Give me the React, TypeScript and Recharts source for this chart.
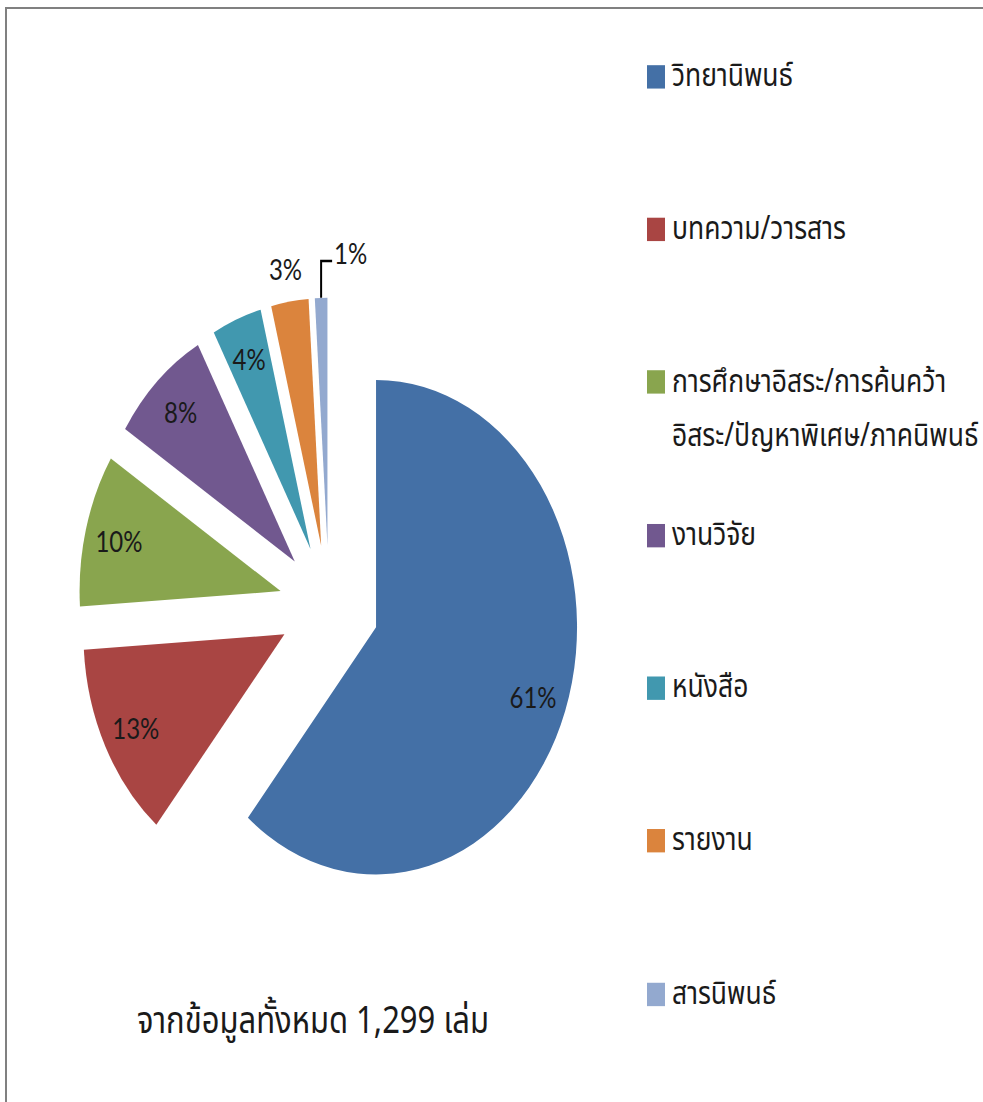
import { Legend, Pie, PieChart, Sector } from "recharts";

const categories = [
  "วิทยานิพนธ์",
  "บทความ/วารสาร",
  "การศึกษาอิสระ/การค้นคว้า\nอิสระ/ปัญหาพิเศษ/ภาคนิพนธ์",
  "งานวิจัย",
  "หนังสือ",
  "รายงาน",
  "สารนิพนธ์",
];
const shares = [61, 13, 10, 8, 4, 3, 1];
const colors = ["#4470A6", "#A94543", "#89A54E", "#71588F", "#4198AF", "#DB843D", "#93A9CF"];
const footnote = "จากข้อมูลทั้งหมด 1,299 เล่ม";

const data = categories.map((name, i) => ({ name, value: shares[i], fill: colors[i] }));

const STRETCH = 1.23; // the source picture is stretched vertically
const EXPLODE = 50;
const RAD = Math.PI / 180;
const THAI_FONT = "'Noto Sans Thai', 'Noto Sans', 'DejaVu Sans', sans-serif";
const LABEL_FONT = "Lato, 'Liberation Sans', sans-serif";

const offsetOf = (cx: number, cy: number, midAngle: number) => ({
  x: cx + EXPLODE * Math.cos(-midAngle * RAD),
  y: cy + EXPLODE * Math.sin(-midAngle * RAD),
});

const ExplodedSlice = (props: any) => {
  const { cx, cy, midAngle, innerRadius, outerRadius, startAngle, endAngle, fill } = props;
  const c = offsetOf(cx, cy, midAngle);
  return (
    <Sector
      cx={c.x}
      cy={c.y}
      innerRadius={innerRadius}
      outerRadius={outerRadius}
      startAngle={startAngle}
      endAngle={endAngle}
      fill={fill}
      stroke="none"
    />
  );
};

const renderLabel = (props: any) => {
  const { cx, cy, midAngle, outerRadius, percent } = props;
  const c = offsetOf(cx, cy, midAngle);
  const cos = Math.cos(-midAngle * RAD);
  const sin = Math.sin(-midAngle * RAD);
  const text = `${Math.round(percent * 100)}%`;
  const style = { fontFamily: LABEL_FONT, fontSize: 24, fill: "#1a1a1a" };

  if (percent >= 0.04) {
    const r = outerRadius * 0.83;
    return (
      <text x={c.x + r * cos} y={c.y + r * sin} textAnchor="middle" dominantBaseline="central" style={style}>
        {text}
      </text>
    );
  }
  if (percent >= 0.02) {
    const r = outerRadius + 27;
    return (
      <text x={c.x + r * cos} y={c.y + r * sin} textAnchor="middle" dominantBaseline="central" style={style}>
        {text}
      </text>
    );
  }
  // tiny slice: leader line going up then right
  const ex = c.x + outerRadius * cos;
  const ey = c.y + outerRadius * sin;
  const ty = ey - 30;
  return (
    <g>
      <polyline points={`${ex},${ey} ${ex},${ty} ${ex + 11},${ty}`} stroke="#000" strokeWidth={2} fill="none" />
      <text x={ex + 13} y={ty - 7} textAnchor="start" dominantBaseline="central" style={style}>
        {text}
      </text>
    </g>
  );
};

const renderLegend = (props: any) => {
  const { payload = [] } = props;
  return (
    <div style={{ fontFamily: THAI_FONT, fontSize: 26.5, color: "#1a1a1a" }}>
      {payload.map((entry: any, i: number) => (
        <div key={i} style={{ display: "flex", alignItems: "flex-start", height: 124.3 }}>
          <div style={{ width: 18, height: 19, marginTop: 12.8, marginRight: 7, background: entry.color, flexShrink: 0 }} />
          <div style={{ lineHeight: "44.7px", whiteSpace: "pre" }}>{entry.value}</div>
        </div>
      ))}
    </div>
  );
};

export default function App() {
  return (
    <div style={{ position: "absolute", left: 0, top: 0, width: 983, height: 1102, overflow: "hidden", background: "#fff" }}>
      <div style={{ position: "absolute", left: 5, top: 7, width: 990, height: 1110, borderTop: "2px solid #808080", borderLeft: "2px solid #808080" }} />
      <div style={{ position: "absolute", left: 0, top: 0, width: 983, height: 896, transform: `scaleY(${STRETCH})`, transformOrigin: "0 0" }}>
        <PieChart width={983} height={896} margin={{ top: 0, right: 0, bottom: 0, left: 0 }}>
          <Pie
            data={data}
            dataKey="value"
            nameKey="name"
            cx={329}
            cy={493}
            outerRadius={201}
            startAngle={90}
            endAngle={-270}
            shape={ExplodedSlice}
            label={renderLabel}
            labelLine={false}
            isAnimationActive={false}
          />
          <Legend
            layout="vertical"
            verticalAlign="top"
            align="right"
            itemSorter={null}
            content={renderLegend}
            wrapperStyle={{ left: 647, top: 40, width: 336 }}
          />
        </PieChart>
        <div style={{ position: "absolute", left: 0, width: 626, top: 813, lineHeight: "36px", textAlign: "center", fontFamily: THAI_FONT, fontSize: 31, color: "#1a1a1a" }}>
          {footnote}
        </div>
      </div>
    </div>
  );
}
